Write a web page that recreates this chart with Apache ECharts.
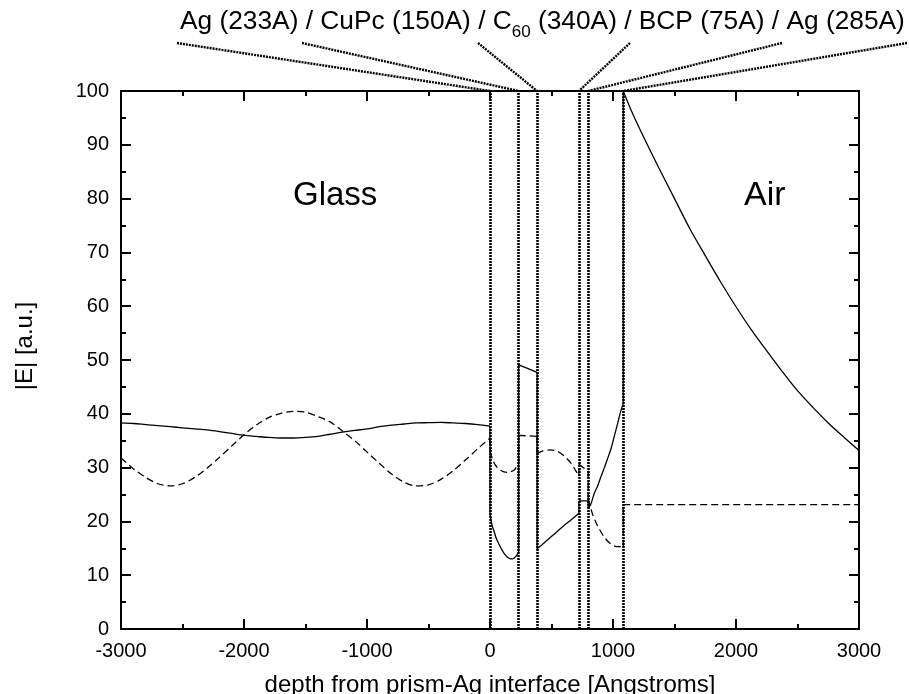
<!DOCTYPE html>
<html>
<head>
<meta charset="utf-8">
<script src="https://cdn.jsdelivr.net/npm/echarts/dist/echarts.min.js"></script>
<style>
  html, body { margin: 0; padding: 0; background: #fff; }
  #chart { width: 909px; height: 694px; }
</style>
</head>
<body>
<div id="chart"></div>
<script>
// Layer interfaces of the stack (Angstroms from the prism/Ag interface)
const interfaces = [0, 233, 383, 723, 798, 1083];

// |E| (solid curve); repeated depths mark a jump at an interface
const solidDepth = [
  -3000, -2900, -2800, -2700, -2600, -2500, -2400, -2300, -2200, -2100, -2000,
  -1900, -1800, -1700, -1600, -1500, -1400, -1300, -1200, -1100, -1000,
  -900, -800, -700, -600, -500, -400, -300, -200, -100, 0,
  0, 10, 20, 31, 50, 72, 90, 113, 140, 167, 190, 210, 233,
  233, 300, 383,
  383, 450, 520, 590, 660, 723,
  723, 798,
  798, 820, 846, 875, 900, 930, 955, 985, 1009, 1040, 1064, 1083,
  1083, 1150, 1250, 1375, 1500, 1625, 1750, 1875, 2000, 2125, 2250, 2375, 2500, 2625, 2750, 2875, 3000
];
const solidField = [
  38.3, 38.2, 38.0, 37.8, 37.6, 37.4, 37.2, 37.0, 36.7, 36.35, 36.0,
  35.8, 35.6, 35.5, 35.5, 35.6, 35.8, 36.2, 36.6, 36.9, 37.2,
  37.6, 37.9, 38.1, 38.3, 38.35, 38.4, 38.3, 38.2, 38.0, 37.7,
  21.5, 20.0, 19.0, 18.3, 16.9, 15.8, 15.0, 14.1, 13.4, 13.05, 13.1, 13.5, 14.2,
  49.1, 48.5, 47.7,
  14.9, 16.2, 17.6, 19.0, 20.3, 21.5,
  23.8, 23.8,
  22.4, 23.2, 25.1, 26.6, 28.2, 30.0, 31.6, 33.6, 35.7, 38.4, 40.6, 41.8,
  100, 96.3, 91.4, 85.6, 80.0, 74.4, 69.4, 64.5, 59.9, 55.6, 51.7, 47.9, 44.3, 41.2, 38.3, 35.7, 33.2
];

// |E| (dashed curve)
const dashedDepth = [
  -3000, -2900, -2800, -2700, -2600, -2500, -2400, -2300, -2200, -2100, -2000,
  -1900, -1800, -1700, -1600, -1500, -1400, -1300, -1200, -1100, -1000,
  -900, -800, -700, -600, -500, -400, -300, -200, -100, 0,
  0, 20, 45, 85, 140, 194, 233,
  233, 383,
  383, 430, 490, 550, 610, 660, 700, 723,
  723, 798,
  798, 833, 874, 928, 982, 1037, 1083,
  1083, 3000
];
const dashedField = [
  31.8, 29.8, 28.2, 27.0, 26.6, 27.0, 28.2, 29.9, 31.9, 34.0, 36.1,
  37.9, 39.3, 40.1, 40.45, 40.3, 39.5, 38.5, 36.8, 35.0, 32.9,
  30.8, 28.8, 27.3, 26.6, 26.8, 27.8, 29.4, 31.4, 33.5, 35.5,
  33.0, 31.6, 30.4, 29.5, 29.1, 29.5, 30.8,
  36.0, 35.8,
  32.6, 33.1, 33.3, 33.0, 32.0, 30.8, 29.3, 28.4,
  30.6, 29.3,
  24.2, 21.4, 19.2, 17.1, 15.8, 15.3, 15.3,
  23.1, 23.1
];

// Axis tick labels
const xTicks = [-3000, -2000, -1000, 0, 1000, 2000, 3000];
const yTicks = [0, 10, 20, 30, 40, 50, 60, 70, 80, 90, 100];

const FONT = '"Liberation Sans", Arial, Helvetica, sans-serif';
const INK = '#000';

// Split a curve into continuous pieces (per layer) plus the vertical jumps between them
function buildSeries(depth, field, dash) {
  const pieces = [];
  let cur = [[depth[0], field[0]]];
  for (let i = 1; i < depth.length; i++) {
    if (depth[i] === depth[i - 1]) {
      pieces.push(cur);
      cur = [];
    }
    cur.push([depth[i], field[i]]);
  }
  pieces.push(cur);
  const out = [];
  const style = { color: INK, width: 1.3, type: dash ? [7, 4] : 'solid' };
  pieces.forEach((p, k) => {
    out.push({
      type: 'line', data: p, showSymbol: false, symbol: 'none',
      smooth: p.length > 3 ? 0.3 : false,
      lineStyle: style, silent: true, z: 3
    });
    if (k > 0) {
      const prev = pieces[k - 1][pieces[k - 1].length - 1];
      out.push({
        type: 'line', data: [prev, p[0]], showSymbol: false, symbol: 'none',
        lineStyle: style, silent: true, z: 3
      });
    }
  });
  return out;
}

function axisPart(showLabels) {
  return {
    axisLine: { show: true, onZero: false, lineStyle: { color: INK, width: 2 } },
    axisTick: { show: true, inside: true, length: 10, lineStyle: { color: INK, width: 2 } },
    minorTick: { show: true, splitNumber: 2, length: 5, lineStyle: { color: INK, width: 2 } },
    splitLine: { show: false },
    minorSplitLine: { show: false },
    axisLabel: showLabels
      ? { show: true, color: INK, fontFamily: FONT, fontSize: 20, margin: 12, formatter: v => String(v) }
      : { show: false }
  };
}

const chart = echarts.init(document.getElementById('chart'), null, { renderer: 'canvas' });

const series = [
  ...buildSeries(solidDepth, solidField, false),
  ...buildSeries(dashedDepth, dashedField, true)
];
series.push({
  type: 'line', data: [], silent: true,
  markLine: {
    silent: true, symbol: 'none', label: { show: false },
    lineStyle: { color: INK, width: 2.6, type: [2, 1] },
    data: interfaces.map(d => ({ xAxis: d }))
  }
});

chart.setOption({
  animation: false,
  backgroundColor: '#fff',
  grid: { left: 121, right: 50, top: 91, bottom: 65, containLabel: false, outerBoundsMode: 'none' },
  xAxis: [
    Object.assign({
      type: 'value', position: 'bottom',
      min: xTicks[0], max: xTicks[xTicks.length - 1], interval: 1000,
      name: 'depth from prism-Ag interface [Angstroms]',
      nameLocation: 'middle', nameGap: 44,
      nameTextStyle: { color: INK, fontFamily: FONT, fontSize: 24 }
    }, axisPart(true)),
    Object.assign({
      type: 'value', position: 'top',
      min: xTicks[0], max: xTicks[xTicks.length - 1], interval: 1000
    }, axisPart(false))
  ],
  yAxis: [
    Object.assign({
      type: 'value', position: 'left',
      min: yTicks[0], max: yTicks[yTicks.length - 1], interval: 10
    }, axisPart(true)),
    Object.assign({
      type: 'value', position: 'right',
      min: yTicks[0], max: yTicks[yTicks.length - 1], interval: 10
    }, axisPart(false))
  ],
  series: series
});

// Medium labels, y-axis title and the layer-stack caption with leader lines to each interface
const ctx = document.createElement('canvas').getContext('2d');
function textWidth(s, size) { ctx.font = size + 'px ' + FONT; return ctx.measureText(s).width; }

const capSize = 26.3, subSize = 17;
const capParts = ['Ag (233A) / CuPc (150A) / C', '60', ' (340A) / BCP (75A) / Ag (285A)'];
const capLeft = 180, capMid = 22;
const w0 = textWidth(capParts[0], capSize);
const w1 = textWidth(capParts[1], subSize);

const leaderTops = [177, 302, 478, 630, 782, 907];
const leaderY = 43;

const graphics = [
  { type: 'text', x: capLeft, y: capMid, silent: true,
    style: { text: capParts[0], font: capSize + 'px ' + FONT, fill: INK, verticalAlign: 'middle' } },
  { type: 'text', x: capLeft + w0, y: capMid + 10, silent: true,
    style: { text: capParts[1], font: subSize + 'px ' + FONT, fill: INK, verticalAlign: 'middle' } },
  { type: 'text', x: capLeft + w0 + w1, y: capMid, silent: true,
    style: { text: capParts[2], font: capSize + 'px ' + FONT, fill: INK, verticalAlign: 'middle' } },
  { type: 'text', x: 293, y: 196, silent: true,
    style: { text: 'Glass', font: '33px ' + FONT, fill: INK, verticalAlign: 'middle' } },
  { type: 'text', x: 744, y: 196, silent: true,
    style: { text: 'Air', font: '34px ' + FONT, fill: INK, verticalAlign: 'middle' } },
  { type: 'text', x: 25, y: 346, rotation: Math.PI / 2, silent: true,
    style: { text: '|E| [a.u.]', font: '24px ' + FONT, fill: INK, align: 'center', verticalAlign: 'middle' } }
];
interfaces.forEach((d, i) => {
  const p = chart.convertToPixel({ xAxisIndex: 0, yAxisIndex: 0 }, [d, 100]);
  graphics.push({
    type: 'line', silent: true, z: 10,
    shape: { x1: leaderTops[i], y1: leaderY, x2: p[0], y2: p[1] },
    style: { stroke: INK, lineWidth: 2.4, lineDash: [2, 1] }
  });
});
chart.setOption({ graphic: graphics });
</script>
</body>
</html>
